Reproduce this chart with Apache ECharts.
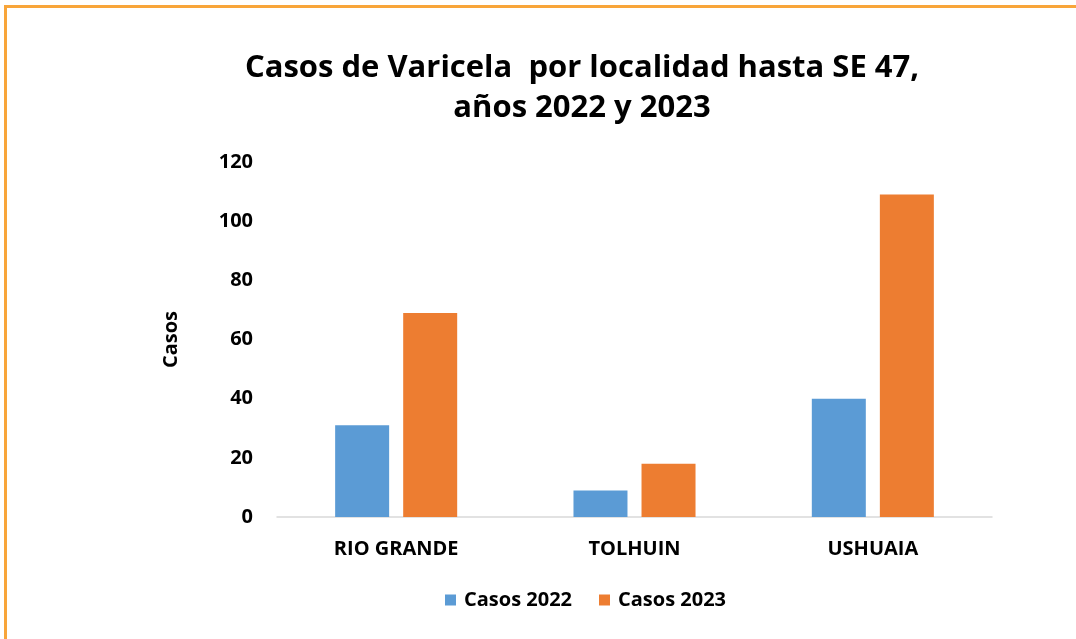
<!DOCTYPE html>
<html>
<head>
<meta charset="utf-8">
<script src="https://cdn.jsdelivr.net/npm/echarts@6/dist/echarts.min.js"></script>
<style>
  html, body { margin: 0; padding: 0; background: #fff; }
  #wrap { position: absolute; left: 0; top: 0; width: 1076px; height: 639px; overflow: hidden; }
  #frame { position: absolute; left: 4px; top: 5px; width: 1100px; height: 700px; border-left: 3px solid #F8A53A; border-top: 3px solid #F8A53A; }
  #chart { position: absolute; left: 0; top: 0; width: 1076px; height: 639px; }
</style>
</head>
<body>
<div id="wrap">
  <div id="frame"></div>
  <div id="chart"></div>
</div>
<script>
'use strict';
// Casos de varicela por localidad
const localidades = ['RIO GRANDE', 'TOLHUIN', 'USHUAIA'];
const casos2022 = [31, 9, 40];
const casos2023 = [69, 18, 109];
const FONT = '"Open Sans", sans-serif';

const chart = echarts.init(document.getElementById('chart'));
chart.setOption({
  backgroundColor: 'transparent',
  textStyle: { fontFamily: FONT },
  title: {
    text: 'Casos de Varicela  por localidad hasta SE 47,\naños 2022 y 2023',
    left: 577, top: 43, textAlign: 'center',
    textStyle: { fontFamily: FONT, fontSize: 31, fontWeight: 'bold', color: '#000', lineHeight: 40 }
  },
  legend: {
    bottom: 24, left: 440, itemWidth: 11, itemHeight: 11, itemGap: 27,
    icon: 'rect',
    textStyle: { fontFamily: FONT, fontSize: 20, fontWeight: 'bold', color: '#000', padding: [0, 0, 0, 3] },
    data: ['Casos 2022', 'Casos 2023']
  },
  grid: { left: 277, right: 84, top: 162, bottom: 122, containLabel: false },
  xAxis: {
    type: 'category', data: localidades,
    axisLine: { lineStyle: { color: '#d9d9d9', width: 1.5 } },
    axisTick: { show: false },
    axisLabel: { color: '#000', fontSize: 20, fontWeight: 'bold', margin: 22 }
  },
  yAxis: {
    type: 'value', min: 0, max: 120, interval: 20,
    name: 'Casos', nameLocation: 'middle', nameGap: 96, nameRotate: 90,
    nameTextStyle: { color: '#000', fontSize: 20, fontWeight: 'bold' },
    axisLine: { show: false }, axisTick: { show: false }, splitLine: { show: false },
    axisLabel: { color: '#000', fontSize: 20, fontWeight: 'bold', margin: 24 }
  },
  series: [
    { name: 'Casos 2022', type: 'bar', data: casos2022, barWidth: 54, barGap: '26%', itemStyle: { color: '#5B9BD5' } },
    { name: 'Casos 2023', type: 'bar', data: casos2023, barWidth: 54, itemStyle: { color: '#ED7D31' } }
  ]
});
</script>
</body>
</html>
